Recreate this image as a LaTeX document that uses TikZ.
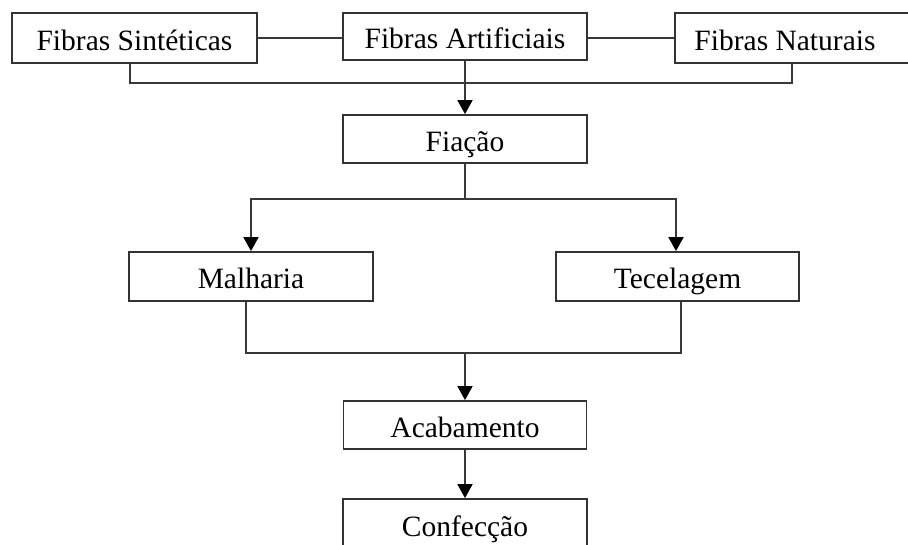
\documentclass[tikz,border=0pt]{standalone}
\usepackage{fontspec}
\setmainfont{Liberation Serif}
\usetikzlibrary{arrows.meta}
\begin{document}
\begin{tikzpicture}[x=1pt,y=-1pt,
  box/.style={draw=black!80, line width=1.8pt, inner sep=0pt, text height=25pt, text depth=0pt,
    font=\fontsize{29.5}{29.5}\selectfont, text=black},
  link/.style={draw=black!78, line width=1.8pt},
  arr/.style={link, -{Triangle[length=14pt,width=15pt,color=black]}}]
\useasboundingbox (0,0) rectangle (908,545);
\node[box, minimum width=245pt, minimum height=50pt] (syn) at (134.5,38) {Fibras Sintéticas};
\node[box, minimum width=244pt, minimum height=47pt] (art) at (465,36.5) {Fibras Artificiais};
\node[box, minimum width=280pt, minimum height=50pt] (nat) at (815,38) {Fibras Naturais\hspace*{60pt}};
\node[box, minimum width=244pt, minimum height=48pt] (fia) at (465,139) {Fiação};
\node[box, minimum width=244pt, minimum height=49pt] (mal) at (251,276.5) {Malharia};
\node[box, minimum width=243pt, minimum height=49pt] (tec) at (677.5,276.5) {Tecelagem};
\node[box, minimum width=243pt, minimum height=48pt] (aca) at (465,425) {Acabamento};
\node[box, minimum width=244pt, minimum height=50pt] (con) at (465,524) {Confecção};
\coordinate (j1) at (465,83);
\coordinate (j2) at (465,199);
\coordinate (j3) at (465,353);
\coordinate (n1) at (792,63);
\draw[link] (syn.east) -- (art.west |- syn.east);
\draw[link] (art.east |- nat.west) -- (nat.west);
\draw[link] ([xshift=-4.5pt]syn.south) |- (j1) -| (n1);
\draw[arr] (art.south) -- (fia.north);
\draw[link] (fia.south) -- (j2);
\draw[arr] (j2) -| (mal.north);
\draw[arr] (j2) -| ([xshift=-1.5pt]tec.north);
\draw[link] ([xshift=-5pt]mal.south) |- (j3) -| ([xshift=3.5pt]tec.south);
\draw[arr] (j3) -- (aca.north);
\draw[arr] (aca.south) -- (con.north);
\end{tikzpicture}
\end{document}
